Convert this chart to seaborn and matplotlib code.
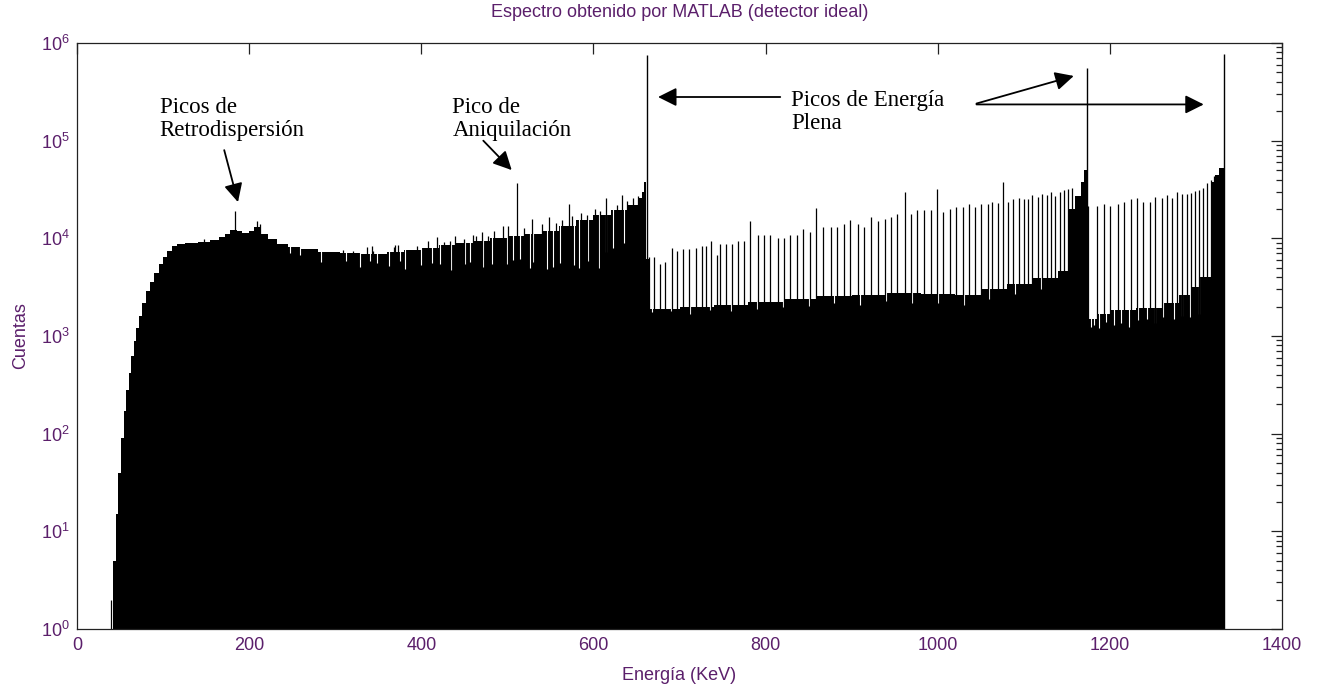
import matplotlib
matplotlib.use("Agg")
import matplotlib.pyplot as plt
import matplotlib.ticker as mticker
import seaborn as sns
import numpy as np

# --- datos ---
# fondo continuo del espectro: bordes de bin (keV) y cuentas por bin
bordes_fondo = [42, 45, 48, 51, 54, 57, 60, 63, 66, 69,
                72, 76, 80, 85, 90, 95, 100, 105, 110, 116,
                125, 140, 155, 165, 172, 178, 186, 192, 200, 206,
                214, 222, 232, 245, 260, 280, 305, 330, 360, 380,
                400, 420, 440, 460, 480, 500, 520, 540, 560, 580,
                600, 620, 640, 652, 656, 659, 661, 664, 700, 740,
                780, 820, 860, 900, 940, 980, 1020, 1050, 1080, 1110,
                1140, 1152, 1160, 1166, 1170, 1173, 1176, 1185, 1200, 1230,
                1260, 1280, 1295, 1305, 1318, 1322, 1327, 1334]
cuentas_fondo = [5, 15, 40, 90, 170, 280, 420, 620, 880,
                 1200, 1600, 2200, 2900, 3600, 4400, 5400, 6500, 7500, 8300,
                 8700, 8900, 9200, 9700, 10400, 11200, 12300, 11800, 11400, 12000,
                 13000, 11000, 9800, 8800, 8200, 7700, 7300, 7000, 6900, 7200,
                 7600, 8000, 8500, 8900, 9400, 10000, 10500, 11200, 12000, 13500,
                 15500, 17500, 19500, 22000, 26000, 30000, 38000, 6200, 1900, 2000,
                 2100, 2250, 2400, 2550, 2650, 2750, 2700, 2600, 3000, 3400,
                 3900, 4600, 20000, 27000, 38000, 50000, 2000, 1500, 1700, 1850,
                 1950, 2200, 2600, 3200, 4000, 38000, 45000, 52000]

# canales aislados que sobresalen del fondo
energia_espigas = [39.5, 148, 163, 184, 209, 213, 337, 343, 369,
                   309, 321, 344, 368, 373, 395, 408, 418, 426, 433,
                   439, 449, 460, 464, 470, 478, 484, 495, 501, 511,
                   519, 528, 540, 548, 557, 563, 571, 575, 586, 592,
                   602, 608, 615, 627, 633, 639, 646, 652,
                   664, 670, 677, 683, 691, 697, 704, 711, 719, 726,
                   731, 737, 743, 747, 754, 761, 768, 775, 782, 791,
                   798, 805, 814, 821, 828, 836, 844, 852, 859, 867,
                   876, 883, 891, 898, 907, 914, 923, 930, 939, 946,
                   953, 962, 969, 976, 984, 992, 999, 1006, 1014, 1021,
                   1029, 1036, 1043, 1050, 1058, 1063, 1070, 1076, 1082, 1087,
                   1094, 1100, 1105, 1110, 1116, 1121, 1127, 1131, 1136, 1142,
                   1147, 1151, 1156,
                   1175, 1185, 1193, 1200, 1209, 1216, 1224, 1232, 1239, 1246,
                   1252, 1260, 1266, 1272, 1278, 1284, 1289, 1294, 1299, 1303,
                   1308, 1313, 1317, 1321]
cuentas_espigas = [2, 9800, 9700, 19000, 15000, 14000, 8200, 8300, 8500,
                   7600, 7500, 7400, 8200, 8500, 8300, 9400, 10400, 9200, 9500,
                   10500, 9900, 10800, 10600, 11700, 10500, 11800, 13500, 13300, 37000,
                   12800, 15900, 14000, 16700, 14300, 15500, 22400, 17000, 18000, 17500,
                   20000, 19000, 25700, 22000, 27700, 24000, 26000, 27000,
                   6500, 6400, 5500, 5700, 7900, 7500, 7700, 7700, 7900, 8300,
                   8400, 9300, 6800, 8700, 8700, 8700, 9400, 9400, 15100, 10700,
                   10700, 10700, 10200, 10100, 10700, 10700, 12600, 11700, 20300, 13200,
                   13200, 13200, 14100, 15400, 14100, 13200, 16500, 15100, 15600, 16700,
                   17700, 30000, 17900, 19400, 19400, 19400, 31800, 18700, 20000, 20800,
                   20800, 22400, 21000, 22400, 22400, 23800, 22800, 38000, 23800, 25000,
                   25700, 25000, 25000, 27600, 26700, 28500, 27800, 30000, 27000, 30000,
                   31500, 32000, 33000,
                   21400, 21400, 22400, 21400, 22400, 23800, 25000, 25700, 23800, 23800,
                   26700, 25700, 27600, 25700, 30000, 28500, 28500, 29000, 30500, 31500,
                   33000, 36500, 39700, 43500]

# canales bajos (huecos blancos dentro del fondo)
energia_huecos = [247, 259, 284, 313, 329, 340, 348, 362, 375, 381,
                  400, 412, 422, 435, 451, 457, 472, 482, 499, 507,
                  515, 526, 530, 546, 553, 561, 577, 583, 594, 606,
                  615, 623, 635,
                  668, 690, 712, 735, 760, 790, 820, 850, 880, 910,
                  940, 970, 1000, 1030, 1060, 1090, 1120,
                  1178, 1182, 1187, 1196, 1205, 1213, 1222, 1233, 1243, 1252,
                  1262, 1275, 1284, 1293, 1303]
cuentas_huecos = [7000, 6800, 5750, 5800, 5100, 5900, 5600, 5200, 5800, 4900,
                  5300, 5600, 5400, 4700, 5400, 5700, 5100, 5500, 5400, 6000,
                  6200, 5000, 5700, 4800, 5100, 5600, 5300, 5000, 5800, 5000,
                  7200, 8000, 9000,
                  1750, 1800, 1700, 1850, 1800, 1900, 2000, 2050, 2200, 2100,
                  2300, 2200, 2200, 2100, 2400, 2700, 3000,
                  1250, 1300, 1200, 1400, 1300, 1350, 1250, 1450, 1500, 1350,
                  1550, 1500, 1600, 1550, 1700]

# fotopicos de energia plena
energia_plenos = [661.7, 1173.2, 1332.5]
cuentas_plenos = [750000, 550000, 780000]

sns.set_theme(style="white")
plt.rcParams["font.family"] = ["Liberation Sans", "DejaVu Sans"]
plt.rcParams["mathtext.fontset"] = "custom"
plt.rcParams["mathtext.rm"] = "Liberation Sans"
plt.rcParams["mathtext.default"] = "regular"

color_texto = "#5b1f6b"

fig = plt.figure(figsize=(13.19, 6.87), dpi=100)
ax = fig.add_axes([0.0584, 0.0844, 0.9136, 0.853])
ax.set_yscale("log")

centros = [(a + b) / 2 for a, b in zip(bordes_fondo[:-1], bordes_fondo[1:])]
sns.histplot(x=centros, weights=cuentas_fondo, bins=bordes_fondo,
             element="step", fill=True, color="black", alpha=1,
             linewidth=0, ax=ax)

# los huecos blancos solo tapan el fondo, no llegan al marco
ax.vlines(energia_huecos, cuentas_huecos, 6e4, colors="white", linewidth=0.8, zorder=2.1)
ax.vlines(energia_espigas, 1, cuentas_espigas, colors="black", linewidth=0.9, zorder=2.2)
ax.vlines(energia_plenos, 1, cuentas_plenos, colors="black", linewidth=1.0, zorder=2.3)

ax.set_xlim(0, 1400)
ax.set_ylim(1, 1e6)
ax.xaxis.set_major_locator(mticker.MultipleLocator(200))
ax.yaxis.set_major_locator(mticker.LogLocator(base=10, numticks=10))
ax.yaxis.set_minor_locator(mticker.LogLocator(base=10, subs=np.arange(2, 10), numticks=20))
ax.yaxis.set_minor_formatter(mticker.NullFormatter())
ax.tick_params(which="both", direction="in", top=True, right=True,
               color="#222222", width=0.9, labelcolor=color_texto, labelsize=13)
ax.tick_params(which="major", length=8)
ax.tick_params(which="minor", length=4.3)
ax.tick_params(axis="x", pad=6)
ax.tick_params(axis="y", pad=5)
for s in ax.spines.values():
    s.set_color("#222222")
    s.set_linewidth(0.9)

ax.set_xlabel("Energía (KeV)", color=color_texto, fontsize=13, labelpad=9)
ax.set_ylabel("Cuentas", color=color_texto, fontsize=13, labelpad=9)
ax.set_title("Espectro obtenido por MATLAB (detector ideal)", color=color_texto,
             fontsize=13, pad=19)

fuente = dict(family=["Liberation Serif", "DejaVu Serif"], fontsize=16.5, color="black")
flecha = dict(arrowstyle="-|>", color="black", lw=1.3, mutation_scale=28, shrinkA=0, shrinkB=0)

ax.text(96, 2.8e5, "Picos de\nRetrodispersión", va="top", ha="left", linespacing=1.15, **fuente)
ax.annotate("", xy=(187, 2.35e4), xytext=(171, 8.0e4), arrowprops=flecha)

ax.text(436, 2.8e5, "Pico de\nAniquilación", va="top", ha="left", linespacing=1.15, **fuente)
ax.annotate("", xy=(505, 5.0e4), xytext=(472, 1.0e5), arrowprops=flecha)

ax.text(830, 3.3e5, "Picos de Energía\nPlena", va="top", ha="left", linespacing=1.15, **fuente)
ax.annotate("", xy=(675, 2.8e5), xytext=(817, 2.8e5), arrowprops=flecha)
ax.annotate("", xy=(1309, 2.35e5), xytext=(1045, 2.35e5), arrowprops=flecha)
ax.annotate("", xy=(1158, 4.6e5), xytext=(1045, 2.4e5), arrowprops=flecha)

fig.savefig("out.png", dpi=100)
